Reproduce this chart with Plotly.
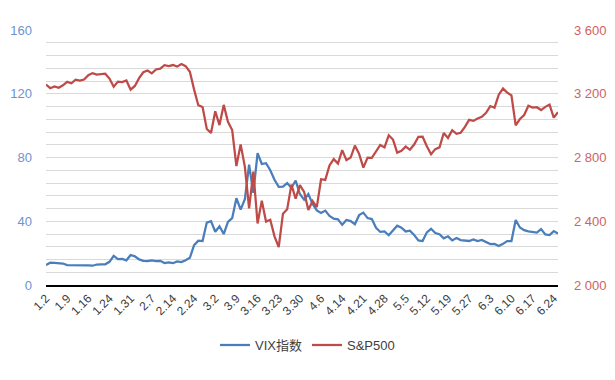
import plotly.graph_objects as go

dates = [
    "1.2", "1.3", "1.6", "1.7", "1.8", "1.9", "1.10", "1.13", "1.14", "1.15", "1.16", "1.17",
    "1.21", "1.22", "1.23", "1.24", "1.27", "1.28", "1.29", "1.30", "1.31",
    "2.3", "2.4", "2.5", "2.6", "2.7", "2.10", "2.11", "2.12", "2.13", "2.14",
    "2.18", "2.19", "2.20", "2.21", "2.24", "2.25", "2.26", "2.27", "2.28",
    "3.2", "3.3", "3.4", "3.5", "3.6", "3.9", "3.10", "3.11", "3.12", "3.13",
    "3.16", "3.17", "3.18", "3.19", "3.20", "3.23", "3.24", "3.25", "3.26", "3.27",
    "3.30", "3.31", "4.1", "4.2", "4.3", "4.6", "4.7", "4.8", "4.9",
    "4.13", "4.14", "4.15", "4.16", "4.17", "4.20", "4.21", "4.22", "4.23", "4.24",
    "4.27", "4.28", "4.29", "4.30", "5.1", "5.4", "5.5", "5.6", "5.7", "5.8",
    "5.11", "5.12", "5.13", "5.14", "5.15", "5.18", "5.19", "5.20", "5.21", "5.22",
    "5.26", "5.27", "5.28", "5.29", "6.1", "6.2", "6.3", "6.4", "6.5",
    "6.8", "6.9", "6.10", "6.11", "6.12", "6.15", "6.16", "6.17", "6.18", "6.19",
    "6.22", "6.23", "6.24", "6.25",
]

vix = [
    12.47, 14.02, 13.85, 13.79, 13.45, 12.54, 12.56, 12.32, 12.39, 12.42, 12.32, 12.10,
    12.85, 12.91, 12.98, 14.56, 18.23, 16.28, 16.39, 15.49, 18.84,
    17.97, 16.05, 15.15, 14.96, 15.47, 15.04, 15.18, 13.74, 14.15, 13.68,
    14.83, 14.38, 15.56, 17.08, 25.03, 27.85, 27.56, 39.16, 40.11,
    33.42, 36.82, 31.99, 39.62, 41.94, 54.46, 47.30, 53.90, 75.47, 57.83,
    82.69, 75.91, 76.45, 72.00, 66.04, 61.59, 61.67, 63.95, 61.00, 65.54,
    57.08, 53.54, 57.06, 50.91, 46.80, 45.24, 46.70, 43.35, 41.67,
    41.17, 37.76, 40.84, 40.11, 38.15, 43.83, 45.41, 41.98, 41.38, 35.93,
    33.29, 33.57, 31.23, 34.15, 37.19, 35.97, 33.61, 34.12, 31.44, 27.98,
    27.57, 33.04, 35.28, 32.61, 31.89, 29.30, 30.53, 27.99, 29.53, 28.16,
    28.01, 27.62, 28.59, 27.51, 28.23, 26.84, 25.66, 25.81, 24.52,
    25.81, 27.57, 27.57, 40.79, 36.09, 34.40, 33.67, 33.47, 32.94, 35.12,
    31.77, 31.37, 33.84, 32.22,
]

sp500 = [
    3257.85, 3234.85, 3246.28, 3237.18, 3253.05, 3274.70, 3265.35, 3288.13, 3283.15, 3289.29, 3316.81, 3329.62,
    3320.79, 3321.75, 3325.54, 3295.47, 3243.63, 3276.24, 3273.40, 3283.66, 3225.52,
    3248.92, 3297.59, 3334.69, 3345.78, 3327.71, 3352.09, 3357.75, 3379.45, 3373.94, 3380.16,
    3370.29, 3386.15, 3373.23, 3337.75, 3225.89, 3128.21, 3116.39, 2978.76, 2954.22,
    3090.23, 3003.37, 3130.12, 3023.94, 2972.37, 2746.56, 2882.23, 2741.38, 2480.64, 2711.02,
    2386.13, 2529.19, 2398.10, 2409.39, 2304.92, 2237.40, 2447.33, 2475.56, 2630.07, 2541.47,
    2626.65, 2584.59, 2470.50, 2526.90, 2488.65, 2663.68, 2659.41, 2749.98, 2789.82,
    2761.63, 2846.06, 2783.36, 2799.55, 2874.56, 2823.16, 2736.56, 2799.31, 2797.80, 2836.74,
    2878.48, 2863.39, 2939.51, 2912.43, 2830.71, 2842.74, 2868.44, 2848.42, 2881.19, 2929.80,
    2930.32, 2870.12, 2820.00, 2852.50, 2863.70, 2953.91, 2922.94, 2971.61, 2948.51, 2955.45,
    2991.77, 3036.13, 3029.73, 3044.31, 3055.73, 3080.82, 3122.87, 3112.35, 3193.93,
    3232.39, 3207.18, 3190.14, 3002.10, 3041.31, 3066.59, 3124.74, 3113.49, 3115.34, 3097.74,
    3117.86, 3131.29, 3050.33, 3083.76,
]

tick_labels = dates[::5]

BLUE = "#4A7EBB"
RED = "#BE4B48"
FONT = "Liberation Sans, Arial, Noto Sans CJK SC, sans-serif"

fig = go.Figure()
fig.add_trace(go.Scatter(x=dates, y=vix, name="VIX指数", mode="lines",
                         line=dict(color=BLUE, width=2.25), yaxis="y"))
fig.add_trace(go.Scatter(x=dates, y=sp500, name="S&P500", mode="lines",
                         line=dict(color=RED, width=2.25), yaxis="y2"))

fig.update_layout(
    width=615, height=380,
    margin=dict(l=46, r=57, t=30, b=95),
    paper_bgcolor="white", plot_bgcolor="white",
    font=dict(family=FONT, size=13, color="#404040"),
    separators=". ",
    showlegend=True,
    legend=dict(orientation="h", x=0.5, xanchor="center", xref="container",
                y=0.092, yanchor="middle", yref="container",
                font=dict(size=13, color="#404040"), itemwidth=30),
    xaxis=dict(type="category", categoryorder="array", categoryarray=dates,
               range=[0, len(dates) - 1], automargin=False,
               tickmode="array", tickvals=tick_labels, ticktext=tick_labels,
               tickangle=-45, tickfont=dict(size=12, color="#404040"),
               showgrid=False, showline=True, linecolor="black", linewidth=1.5,
               ticks="", zeroline=False),
    yaxis=dict(range=[0, 160], dtick=40, tick0=0, automargin=False,
               tickfont=dict(size=13, color="#6C94CE"),
               showgrid=True, gridcolor="#D9D9D9", gridwidth=1,
               minor=dict(dtick=8, showgrid=True, gridcolor="#D9D9D9", gridwidth=1),
               zeroline=False, showline=False, ticks="", ticklabelstandoff=13),
    yaxis2=dict(range=[2000, 3600], dtick=400, tick0=2000, overlaying="y", side="right",
                tickformat=",d", tickfont=dict(size=13, color="#D0625F"),
                showgrid=False, zeroline=False, showline=False, ticks="",
                ticklabelstandoff=15, automargin=False),
)

fig.write_html("out.html",
               config={"displayModeBar": False},
               post_script="document.body.style.margin='0px';document.body.style.overflow='hidden';")
